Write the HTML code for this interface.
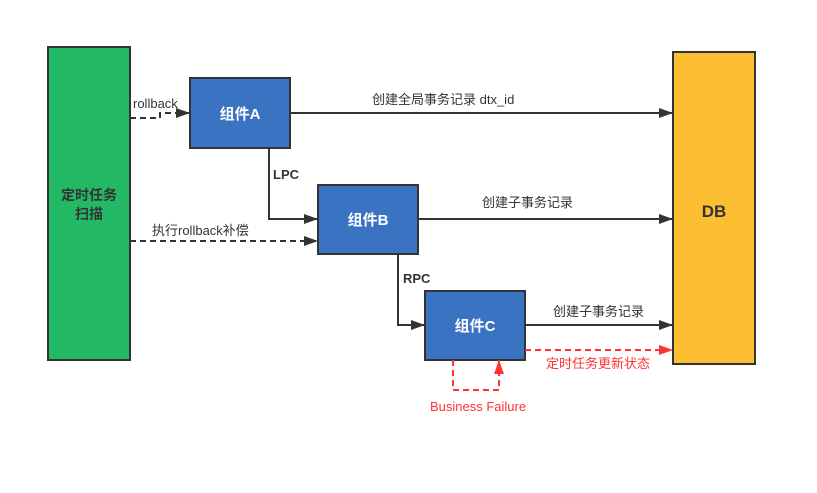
<!DOCTYPE html>
<html><head><meta charset="utf-8"><style>body{margin:0;background:#fff}</style></head><body>
<svg width="817" height="488" xmlns="http://www.w3.org/2000/svg" font-family="Liberation Sans, Noto Sans CJK SC, sans-serif">
<defs>
<marker id="a" markerWidth="14" markerHeight="10" refX="14" refY="5" orient="auto" markerUnits="userSpaceOnUse"><path d="M0,0L14,5L0,10z" fill="#333"/></marker>
<marker id="r" markerWidth="14" markerHeight="10" refX="14" refY="5" orient="auto" markerUnits="userSpaceOnUse"><path d="M0,0L14,5L0,10z" fill="#ff3333"/></marker>
</defs>
<rect x="48" y="47" width="82" height="313" fill="#23b864" stroke="#333" stroke-width="2"/>
<text x="89" y="200" text-anchor="middle" font-size="14" font-weight="bold" fill="#333">定时任务</text>
<text x="89" y="219" text-anchor="middle" font-size="14" font-weight="bold" fill="#333">扫描</text>
<rect x="673" y="52" width="82" height="312" fill="#fdbf32" stroke="#333" stroke-width="2"/>
<text x="714" y="217" text-anchor="middle" font-size="17" font-weight="bold" fill="#333">DB</text>
<g fill="#3a73c2" stroke="#333" stroke-width="2">
<rect x="190" y="78" width="100" height="70"/><rect x="318" y="185" width="100" height="69"/><rect x="425" y="291" width="100" height="69"/></g>
<g fill="#fff" font-size="15" font-weight="bold" text-anchor="middle">
<text x="240" y="119">组件A</text><text x="368" y="225">组件B</text><text x="475" y="331">组件C</text></g>
<g stroke="#333" stroke-width="2" fill="none">
<path d="M130,118H160V113H190" stroke-dasharray="6,4" marker-end="url(#a)"/>
<path d="M290,113H673" marker-end="url(#a)"/>
<path d="M269,148V219H318" marker-end="url(#a)"/>
<path d="M418,219H673" marker-end="url(#a)"/>
<path d="M130,241H318" stroke-dasharray="6,4" marker-end="url(#a)"/>
<path d="M398,254V325H425" marker-end="url(#a)"/>
<path d="M525,325H673" marker-end="url(#a)"/>
</g>
<g stroke="#ff3333" stroke-width="2" fill="none" stroke-dasharray="6,4">
<path d="M525,350H673" marker-end="url(#r)"/>
<path d="M453,360V390H499V360" marker-end="url(#r)"/>
</g>
<g font-size="13" fill="#333">
<text x="133" y="108">rollback</text>
<text x="372" y="104">创建全局事务记录 dtx_id</text>
<text x="273" y="179" font-weight="bold">LPC</text>
<text x="152" y="235">执行rollback补偿</text>
<text x="482" y="207">创建子事务记录</text>
<text x="403" y="283" font-weight="bold">RPC</text>
<text x="553" y="316">创建子事务记录</text>
</g>
<g font-size="13" fill="#ff3333">
<text x="546" y="368">定时任务更新状态</text>
<text x="430" y="411">Business Failure</text>
</g>
</svg>
</body></html>
